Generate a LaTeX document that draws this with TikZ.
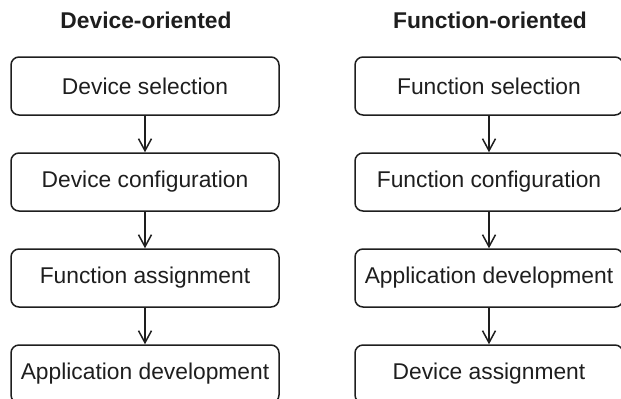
\documentclass[tikz,border=0pt]{standalone}
\usepackage{fontspec}
\setmainfont{Liberation Sans}
\usetikzlibrary{arrows.meta}
\definecolor{ink}{HTML}{1E1E1E}
\tikzset{
  box/.style={draw=ink, line width=0.75pt, rounded corners=4pt, minimum width=134pt, minimum height=29pt, inner sep=0pt, text=ink, font=\fontsize{11.4pt}{13pt}\selectfont},
  ttl/.style={text=ink, font=\fontsize{11.4pt}{13pt}\selectfont\bfseries, inner sep=0pt},
  flow/.style={draw=ink, line width=0.75pt, -{Straight Barb[length=6pt,width=6.5pt]}}
}
\begin{document}
\begin{tikzpicture}[x=0.5pt,y=-0.5pt]
\useasboundingbox (0,0) rectangle (621,398);
\clip (0,0) rectangle (621,398);
\node[ttl] (t1) at (146,20) {Device-oriented};
\node[ttl] (t2) at (490,20) {Function-oriented};
\node[box] (a1) at (145,86) {Device selection};
\node[box] (a2) at (145,182) {Device configuration};
\node[box] (a3) at (145,278) {Function assignment};
\node[box] (a4) at (145,374) {Application development};
\node[box] (b1) at (489,86) {Function selection};
\node[box] (b2) at (489,182) {Function configuration};
\node[box] (b3) at (489,278) {Application development};
\node[box] (b4) at (489,374) {Device assignment};
\draw[flow] (a1) -- (a2);
\draw[flow] (a2) -- (a3);
\draw[flow] (a3) -- (a4);
\draw[flow] (b1) -- (b2);
\draw[flow] (b2) -- (b3);
\draw[flow] (b3) -- (b4);
\end{tikzpicture}
\end{document}
